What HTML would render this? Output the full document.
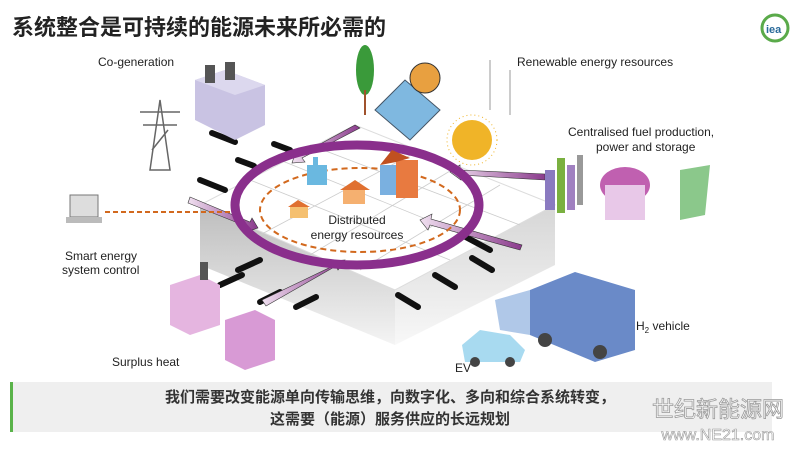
<!DOCTYPE html>
<html><head><meta charset="utf-8"><style>
body{margin:0;width:800px;height:450px;background:#fff;overflow:hidden;font-family:"Liberation Sans","Noto Sans CJK SC",sans-serif}
</style></head><body>
<svg width="800" height="450" viewBox="0 0 800 450" xmlns="http://www.w3.org/2000/svg" font-family="Liberation Sans, Noto Sans CJK SC, sans-serif">
<defs>
<linearGradient id="lf" x1="0" y1="0" x2="0" y2="1"><stop offset="0" stop-color="#bdbdbd"/><stop offset="1" stop-color="#f4f4f4"/></linearGradient>
<linearGradient id="rf" x1="0" y1="0" x2="0" y2="1"><stop offset="0" stop-color="#d6d6d6"/><stop offset="1" stop-color="#f8f8f8"/></linearGradient>
<linearGradient id="ar" x1="0" y1="0" x2="1" y2="0"><stop offset="0" stop-color="#f0e0f0"/><stop offset="1" stop-color="#8a3a8c"/></linearGradient>
</defs>
<text x="12" y="35" font-size="22" fill="#222" font-family="Noto Sans CJK SC, sans-serif" font-weight="bold">系统整合是可持续的能源未来所必需的</text>
<circle cx="775" cy="28" r="13" fill="#fff" stroke="#5aaa4a" stroke-width="3"/>
<text x="766" y="33" font-size="11" fill="#2a6a9a" font-weight="bold">iea</text>
<!-- slab -->
<polygon points="200,205 395,290 395,345 200,265" fill="url(#lf)"/>
<polygon points="395,290 555,205 555,265 395,345" fill="url(#rf)"/>
<polygon points="200,205 355,125 555,205 395,290" fill="#fff" stroke="#ddd"/>
<g stroke="#ccc" stroke-width="0.8">
<line x1="250" y1="180" x2="450" y2="260"/><line x1="280" y1="160" x2="490" y2="245"/><line x1="310" y1="145" x2="520" y2="225"/>
<line x1="260" y1="235" x2="420" y2="150"/><line x1="310" y1="255" x2="460" y2="165"/><line x1="360" y1="270" x2="500" y2="185"/>
</g>
<g stroke="#111" stroke-width="6" stroke-linecap="round">
<line x1="274" y1="144" x2="290" y2="150"/><line x1="238" y1="160" x2="254" y2="166"/><line x1="200" y1="180" x2="225" y2="190"/><line x1="212" y1="133" x2="235" y2="142"/><line x1="238" y1="270" x2="260" y2="260"/><line x1="220" y1="285" x2="242" y2="275"/><line x1="260" y1="302" x2="280" y2="292"/><line x1="296" y1="307" x2="316" y2="297"/>
<line x1="398" y1="295" x2="418" y2="307"/><line x1="435" y1="275" x2="455" y2="287"/><line x1="472" y1="258" x2="492" y2="270"/><line x1="462" y1="235" x2="490" y2="250"/>
</g>
<g fill="url(#ar)" stroke="#333" stroke-width="0.6">
<polygon points="190,197 250,222 252,218 258,228 246,232 248,227 188,203"/>
<polygon points="262,300 335,265 332,261 345,260 338,270 336,266 266,306"/>
<polygon points="520,250 430,225 428,230 420,220 432,214 431,219 522,245"/>
<polygon points="545,180 460,175 461,180 450,172 460,165 460,170 545,174"/>
<polygon points="355,125 300,155 296,151 292,163 305,162 302,158 360,128"/>
</g>
<ellipse cx="357" cy="205" rx="122" ry="60" fill="none" stroke="#8a2f8c" stroke-width="9"/>
<ellipse cx="360" cy="210" rx="100" ry="42" fill="none" stroke="#d2691e" stroke-width="2" stroke-dasharray="6,4"/>
<rect x="307" y="165" width="20" height="20" fill="#6ab8e0"/><rect x="313" y="157" width="5" height="10" fill="#6ab8e0"/>
<polygon points="340,190 355,180 370,190" fill="#e07030"/><rect x="343" y="190" width="22" height="14" fill="#f5b070"/>
<polygon points="288,207 298,200 310,207" fill="#e07030"/><rect x="290" y="207" width="18" height="11" fill="#f5c070"/>
<rect x="380" y="165" width="18" height="30" fill="#7ab0e0"/><rect x="396" y="160" width="22" height="38" fill="#e87a40"/><polygon points="380,165 392,150 410,158 396,162" fill="#c05020"/>
<text x="357" y="224" font-size="12" fill="#222" text-anchor="middle">Distributed</text>
<text x="357" y="239" font-size="12" fill="#222" text-anchor="middle">energy resources</text>
<text x="98" y="66" font-size="12" fill="#222">Co-generation</text>
<text x="517" y="66" font-size="12" fill="#222">Renewable energy resources</text>
<text x="568" y="136" font-size="12" fill="#222">Centralised fuel production,</text>
<text x="596" y="151" font-size="12" fill="#222">power and storage</text>
<text x="65" y="260" font-size="12" fill="#222">Smart energy</text>
<text x="62" y="274" font-size="12" fill="#222">system control</text>
<text x="112" y="366" font-size="12" fill="#222">Surplus heat</text>
<text x="636" y="330" font-size="12" fill="#222">H<tspan font-size="8" dy="3">2</tspan><tspan dy="-3"> vehicle</tspan></text>
<text x="455" y="372" font-size="12" fill="#222">EV</text>
<g stroke="#666" stroke-width="1.5" fill="none"><polygon points="150,170 160,100 170,170"/><line x1="140" y1="112" x2="180" y2="112"/><line x1="143" y1="125" x2="177" y2="125"/><line x1="152" y1="150" x2="168" y2="130"/></g>
<polygon points="195,80 225,70 265,85 265,125 235,140 195,120" fill="#c9c3e3"/><polygon points="195,80 225,70 265,85 235,95" fill="#dcd8ee"/>
<rect x="205" y="65" width="10" height="18" fill="#555"/><rect x="225" y="62" width="10" height="18" fill="#555"/>
<rect x="70" y="195" width="28" height="22" fill="#ddd" stroke="#777"/><rect x="66" y="217" width="36" height="6" fill="#bbb"/>
<line x1="105" y1="212" x2="232" y2="212" stroke="#d2691e" stroke-width="2" stroke-dasharray="5,3"/>
<polygon points="170,285 200,275 220,285 220,325 190,335 170,325" fill="#e5b5e0"/><rect x="200" y="262" width="8" height="18" fill="#555"/>
<polygon points="225,320 255,310 275,320 275,360 245,370 225,360" fill="#d89ad5"/>
<ellipse cx="365" cy="70" rx="9" ry="25" fill="#3a9a3a"/><line x1="365" y1="90" x2="365" y2="115" stroke="#a0522d" stroke-width="2"/>
<polygon points="375,110 405,80 440,110 410,140" fill="#7fb8e0" stroke="#456"/>
<circle cx="425" cy="78" r="15" fill="#e8a040" stroke="#333"/>
<g stroke="#999" fill="none"><line x1="490" y1="60" x2="490" y2="110"/><line x1="510" y1="70" x2="510" y2="115"/></g>
<circle cx="472" cy="140" r="20" fill="#f0b428"/><circle cx="472" cy="140" r="25" fill="none" stroke="#f0b428" stroke-dasharray="1,3"/>
<rect x="545" y="170" width="10" height="40" fill="#8a7ac0"/><rect x="557" y="158" width="8" height="55" fill="#7ab040"/><rect x="567" y="165" width="8" height="45" fill="#a080c0"/><rect x="577" y="155" width="6" height="50" fill="#999"/>
<ellipse cx="625" cy="185" rx="25" ry="18" fill="#c060b0"/><rect x="605" y="185" width="40" height="35" fill="#e8c8e8"/>
<polygon points="680,170 710,165 705,215 680,220" fill="#8bc88b"/>
<polygon points="530,290 575,272 635,290 635,350 595,362 530,335" fill="#6a8ac8"/><polygon points="495,300 530,290 530,335 500,330" fill="#b0c8e8"/>
<circle cx="545" cy="340" r="7" fill="#444"/><circle cx="600" cy="352" r="7" fill="#444"/>
<polygon points="462,345 480,330 510,335 525,350 520,362 465,362" fill="#a8daf0"/>
<circle cx="475" cy="362" r="5" fill="#444"/><circle cx="510" cy="362" r="5" fill="#444"/>
<rect x="10" y="382" width="762" height="50" fill="#efefef"/>
<rect x="10" y="382" width="3" height="50" fill="#5ab34a"/>
<text x="390" y="402" font-size="15" font-weight="bold" fill="#333" text-anchor="middle" font-family="Noto Sans CJK SC, sans-serif">我们需要改变能源单向传输思维，向数字化、多向和综合系统转变，</text>
<text x="390" y="424" font-size="15" font-weight="bold" fill="#333" text-anchor="middle" font-family="Noto Sans CJK SC, sans-serif">这需要（能源）服务供应的长远规划</text>
<text x="718" y="417" font-size="22" fill="#fff" stroke="#999" stroke-width="0.8" text-anchor="middle" font-family="Noto Sans CJK SC, sans-serif">世纪新能源网</text>
<text x="718" y="440" font-size="16" fill="#fff" stroke="#999" stroke-width="0.6" text-anchor="middle">www.NE21.com</text>
</svg>
</body></html>
